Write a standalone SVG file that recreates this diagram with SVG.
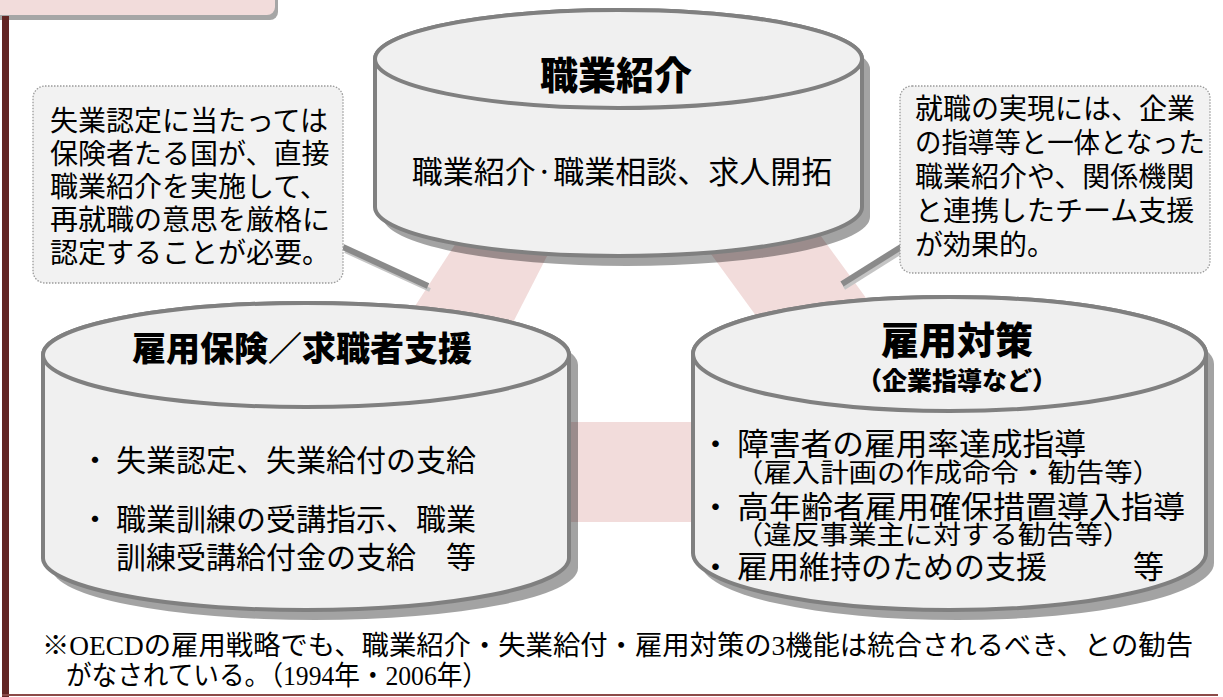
<svg xmlns="http://www.w3.org/2000/svg" width="1223" height="697" viewBox="0 0 1223 697">
<style>
.cyl{fill:#f0f0f0;stroke:#808080;stroke-width:4}
.shd{fill:#000;fill-opacity:0.36}
.band{fill:#f2dcdb}
.call{fill:#f2f2f2;stroke:#9a9a9a;stroke-width:1.3;stroke-dasharray:1.5 1.5}
.ptr{stroke:#8a8a8a;stroke-width:6;fill:none}
.ptrs{stroke:#c4c4c4;stroke-width:4;fill:none}
.g{font-family:'Noto Sans CJK JP','Noto Sans',sans-serif;fill:#000}
.gb{font-family:'Noto Sans CJK JP','Noto Sans',sans-serif;font-weight:900;fill:#000}
.m{font-family:'Liberation Serif','Noto Sans CJK JP',serif;fill:#000}
</style>
<rect width="1223" height="697" fill="#fff"/>
<g id="header">
<rect x="-10" y="-20" width="285" height="35" rx="8" fill="#a6a6a6" transform="translate(3,5)"/>
<rect x="-10" y="-20" width="285" height="35" rx="8" fill="#f2dcdb"/>
</g>
<g id="frame">
<rect x="2" y="16" width="7" height="681" fill="#632523"/>
<rect x="2" y="694" width="1216" height="2" fill="#8c4a48"/>
</g>
<g id="connectors">
<polygon class="band" points="497,180 586,180 463,420 341,420"/>
<polygon class="band" points="657,180 780,180 955,420 832,420"/>
<rect class="band" x="540" y="422" width="180" height="100"/>
</g>
<g id="node-shokugyo-shokai">
<path class="shd" transform="translate(8,10)" d="M375,59 A243.5,49 0 0 1 862,59 V207 A243.5,49 0 0 1 375,207 Z"/>
<path class="cyl" d="M375,59 A243.5,49 0 0 1 862,59 V207 A243.5,49 0 0 1 375,207 Z"/>
<ellipse class="cyl" cx="618.5" cy="59" rx="243.5" ry="49"/>
<text class="gb" x="616" y="89" font-size="38" text-anchor="middle">職業紹介</text>
<text class="g" x="622" y="183" font-size="31" text-anchor="middle">職業紹介·職業相談、求人開拓</text>
</g>
<g id="node-koyo-hoken">
<path class="shd" transform="translate(9,10)" d="M43,355 A263,52 0 0 1 569,355 V558 A263,52 0 0 1 43,558 Z"/>
<path class="cyl" d="M43,355 A263,52 0 0 1 569,355 V558 A263,52 0 0 1 43,558 Z"/>
<ellipse class="cyl" cx="306" cy="355" rx="263" ry="52"/>
<text class="gb" x="302" y="361" font-size="34" text-anchor="middle">雇用保険／求職者支援</text>
<text class="g" x="80" y="471" font-size="30">・</text>
<text class="g" x="116" y="471" font-size="30">失業認定、失業給付の支給</text>
<text class="g" x="80" y="530" font-size="30">・</text>
<text class="g" x="116" y="530" font-size="30">職業訓練の受講指示、職業</text>
<text class="g" x="116" y="568" font-size="30">訓練受講給付金の支給　等</text>
</g>
<g id="node-koyo-taisaku">
<path class="shd" transform="translate(8,10)" d="M693,354 A256.5,57 0 0 1 1206,354 V553 A256.5,57 0 0 1 693,553 Z"/>
<path class="cyl" d="M693,354 A256.5,57 0 0 1 1206,354 V553 A256.5,57 0 0 1 693,553 Z"/>
<ellipse class="cyl" cx="949.5" cy="354" rx="256.5" ry="57"/>
<text class="gb" x="957" y="354" font-size="38" text-anchor="middle">雇用対策</text>
<text class="gb" x="957" y="390" font-size="25" text-anchor="middle">（企業指導など）</text>
<text class="g" x="700" y="455" font-size="31">・</text>
<text class="g" x="737" y="455" font-size="31" textLength="349" lengthAdjust="spacingAndGlyphs">障害者の雇用率達成指導</text>
<text class="m" x="735" y="482" font-size="26" textLength="426" lengthAdjust="spacingAndGlyphs">（雇入計画の作成命令・勧告等）</text>
<text class="g" x="700" y="518" font-size="31">・</text>
<text class="g" x="737" y="518" font-size="31" textLength="448" lengthAdjust="spacingAndGlyphs">高年齢者雇用確保措置導入指導</text>
<text class="m" x="735" y="544" font-size="26" textLength="396" lengthAdjust="spacingAndGlyphs">（違反事業主に対する勧告等）</text>
<text class="g" x="700" y="578" font-size="31">・</text>
<text class="g" x="737" y="578" font-size="31">雇用維持のための支援</text>
<text class="g" x="1133" y="578" font-size="31">等</text>
</g>
<g id="callout-left">
<line class="ptrs" x1="345" y1="251" x2="430" y2="290"/>
<line class="ptr" x1="343" y1="247" x2="428" y2="286"/>
<rect class="call" x="33" y="86" width="310" height="197" rx="12"/>
<text class="m" x="50" y="131" font-size="28">失業認定に当たっては</text>
<text class="m" x="50" y="164" font-size="28">保険者たる国が、直接</text>
<text class="m" x="50" y="197" font-size="28">職業紹介を実施して、</text>
<text class="m" x="50" y="230" font-size="28">再就職の意思を厳格に</text>
<text class="m" x="50" y="263" font-size="28">認定することが必要。</text>
</g>
<g id="callout-right">
<line class="ptrs" x1="903" y1="251" x2="844" y2="288"/>
<line class="ptr" x1="901" y1="247" x2="842" y2="284"/>
<rect class="call" x="900" y="86" width="310" height="187" rx="12"/>
<text class="m" x="915" y="119" font-size="28">就職の実現には、企業</text>
<text class="m" x="915" y="153" font-size="28" textLength="290" lengthAdjust="spacingAndGlyphs">の指導等と一体となった</text>
<text class="m" x="915" y="187" font-size="28">職業紹介や、関係機関</text>
<text class="m" x="915" y="221" font-size="28">と連携したチーム支援</text>
<text class="m" x="915" y="255" font-size="28">が効果的。</text>
</g>
<g id="note">
<text class="m" x="42" y="655" font-size="27" textLength="1151" lengthAdjust="spacingAndGlyphs">※OECDの雇用戦略でも、職業紹介・失業給付・雇用対策の3機能は統合されるべき、との勧告</text>
<text class="m" x="66" y="685" font-size="27" textLength="422" lengthAdjust="spacingAndGlyphs">がなされている。（1994年・2006年）</text>
</g>
</svg>
